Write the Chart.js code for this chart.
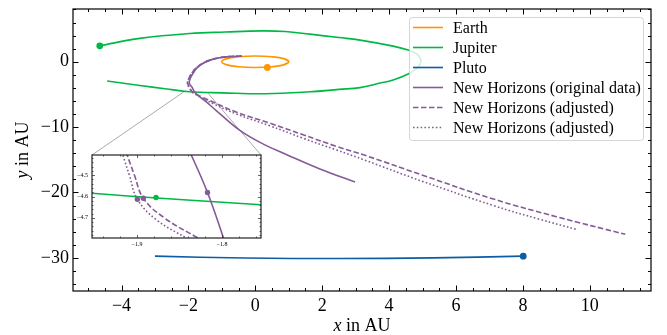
<!DOCTYPE html>
<html>
<head>
<meta charset="utf-8">
<script src="https://cdn.jsdelivr.net/npm/chart.js@4.4.1/dist/chart.umd.min.js"></script>
<style>
  html, body { margin: 0; padding: 0; background: #fff; }
  #wrap { position: relative; width: 667px; height: 335px; }
  #orbitChart { position: absolute; left: 0; top: 0; }
  #zoomChart { position: absolute; }
</style>
</head>
<body>
<div id="wrap">
  <canvas id="orbitChart" width="667" height="335"></canvas>
  <canvas id="zoomChart"></canvas>
</div>
<script>
// positions in AU, [x, y]
const earthPath = [[0.87,-0.44],[1.0,0.0],[0.87,0.44],[0.5,0.76],[0.0,0.88],[-0.5,0.76],[-0.87,0.44],[-1.0,0.0],[-0.87,-0.44],[-0.5,-0.76],[0.0,-0.88],[0.5,-0.76],[0.87,-0.44],[1.0,0.0],[0.87,0.44]];
const jupiterPath = [[-4.43,-2.94],[-3.45,-3.63],[-2.7,-4.12],[-1.96,-4.59],[-1.0,-4.76],[0.3,-4.9],[1.63,-4.6],[2.5,-4.23],[3.13,-3.96],[3.7,-3.3],[4.12,-2.79],[4.57,-1.88],[4.85,-0.92],[4.95,0.1],[4.85,1.1],[4.57,1.78],[4.12,2.39],[3.13,3.31],[2.5,3.7],[1.63,4.22],[0.9,4.62],[0.2,4.72],[-0.9,4.55],[-1.96,4.33],[-3.45,3.57],[-4.65,2.44]];
const plutoPath = [[-3.0,-29.74],[-0.3,-30.02],[2.5,-30.1],[5.3,-30.0],[8.01,-29.74]];
const nhOriginal = [[-0.41,0.87],[-0.75,0.8],[-1.06,0.62],[-1.35,0.25],[-1.56,-0.25],[-1.75,-1.0],[-1.86,-1.78],[-1.95,-2.6],[-1.97,-3.3],[-1.88,-4.0],[-1.82,-4.6],[-1.7,-5.2],[-1.5,-6.0],[-1.16,-7.5],[-0.46,-10.5],[0.24,-12.6],[0.94,-14.22],[1.93,-16.4],[2.98,-18.4]];
const nhAdjusted1 = [[-0.41,0.87],[-0.75,0.8],[-1.06,0.62],[-1.36,0.25],[-1.58,-0.25],[-1.78,-1.0],[-1.9,-1.78],[-1.99,-2.6],[-2.02,-3.3],[-1.96,-4.0],[-1.89,-4.6],[-1.83,-4.8],[-1.6,-5.4],[-1.2,-6.3],[-0.56,-7.72],[0.44,-9.4],[1.43,-11.17],[2.43,-12.95],[3.3,-14.35],[5.0,-17.35],[7.12,-21.0],[9.0,-23.7],[11.06,-26.4]];
const nhAdjusted2 = [[-0.41,0.87],[-0.75,0.8],[-1.06,0.62],[-1.36,0.25],[-1.58,-0.25],[-1.78,-1.0],[-1.9,-1.78],[-1.99,-2.6],[-2.03,-3.3],[-1.97,-4.0],[-1.9,-4.61],[-1.84,-4.8],[-1.62,-5.5],[-1.22,-6.5],[-0.56,-8.0],[0.44,-9.8],[1.43,-11.7],[2.43,-13.5],[3.3,-15.1],[5.0,-18.3],[7.12,-22.0],[8.5,-24.1],[9.61,-25.66]];
const earthNow = [[0.36,-0.88]];
const jupiterNow = [[-4.65,2.44]];
const plutoNow = [[8.01,-29.74]];

// zoom on the Jupiter flyby
const zoomJupiter = [[-1.96,-4.583],[-1.877,-4.607],[-1.75,-4.64]];
const zoomOriginal = [[-1.84,-4.37],[-1.817,-4.581],[-1.796,-4.82]];
const zoomAdjusted1 = [[-1.913,-4.39],[-1.903,-4.5],[-1.8926,-4.608],[-1.868,-4.70],[-1.826,-4.80],[-1.813,-4.83]];
const zoomAdjusted2 = [[-1.918,-4.39],[-1.909,-4.5],[-1.8996,-4.613],[-1.877,-4.71],[-1.84,-4.80],[-1.829,-4.83]];
const zoomJupiterNow = [[-1.8776,-4.605]];
const zoomNhNow = [[-1.8996,-4.613],[-1.8926,-4.608],[-1.817,-4.581]];
const zoomLinkEnds = [[-2.14,-4.62],[-1.41,-4.84]];

const labels = ["Earth", "Jupiter", "Pluto", "New Horizons (original data)", "New Horizons (adjusted)", "New Horizons (adjusted)"];

const ORANGE = "#FF9500", GREEN = "#00B945", BLUE = "#0C5DA5", PURPLE = "#845B97";
const SERIF = "'Liberation Serif', 'DejaVu Serif', serif";
const insetBox = { left: 92, top: 155, right: 261, bottom: 238 };

const pts = (arr) => arr.map(([x, y]) => ({ x, y }));
const fmt = (digits) => (v) => (v < 0 ? "\u2212" : "") + Math.abs(v).toFixed(digits);

const line = (label, data, color, dash, order) => ({
  label, data: pts(data), borderColor: color, backgroundColor: color,
  borderWidth: 1.6, borderDash: dash || [], pointRadius: 0, tension: 0.4, order
});
const dots = (data, color, r, order) => ({
  data: pts(data), showLine: false, pointRadius: r, pointBackgroundColor: color,
  pointBorderWidth: 0, backgroundColor: color, borderColor: color, order
});

// inward ticks on all four sides, plus frame
const frameTicks = {
  id: "frameTicks",
  afterDatasetsDraw(chart, args, o) {
    const { ctx, chartArea: a, scales: { x, y } } = chart;
    ctx.save();
    ctx.strokeStyle = o.color;
    ctx.lineWidth = o.tickWidth;
    const minors = (sc, step, major) => {
      const out = [];
      for (let k = Math.ceil(sc.min / step - 1e-9); k * step <= sc.max + 1e-9; k++) {
        const v = k * step;
        const r = v / major;
        if (Math.abs(r - Math.round(r)) > 1e-6) out.push(v);
      }
      return out;
    };
    const drawX = (vals, len) => vals.forEach((v) => {
      const p = Math.round(x.getPixelForValue(v)) + 0.5;
      ctx.beginPath();
      ctx.moveTo(p, a.bottom); ctx.lineTo(p, a.bottom - len);
      ctx.moveTo(p, a.top); ctx.lineTo(p, a.top + len);
      ctx.stroke();
    });
    const drawY = (vals, len) => vals.forEach((v) => {
      const p = Math.round(y.getPixelForValue(v)) + 0.5;
      ctx.beginPath();
      ctx.moveTo(a.left, p); ctx.lineTo(a.left + len, p);
      ctx.moveTo(a.right, p); ctx.lineTo(a.right - len, p);
      ctx.stroke();
    });
    drawX(x.ticks.map((t) => t.value), o.major);
    drawY(y.ticks.map((t) => t.value), o.major);
    drawX(minors(x, o.xMinor, o.xMajor), o.minor);
    drawY(minors(y, o.yMinor, o.yMajor), o.minor);
    ctx.lineWidth = o.frameWidth;
    ctx.strokeRect(a.left, a.top, a.right - a.left, a.bottom - a.top);
    ctx.restore();
  }
};

// axis titles with italic variable names
const drawMixed = (ctx, parts, size) => {
  const fonts = parts.map((p) => (p[1] ? "italic " : "") + size + "px " + SERIF);
  const widths = parts.map((p, i) => { ctx.font = fonts[i]; return ctx.measureText(p[0]).width; });
  let x = -widths.reduce((s, w) => s + w, 0) / 2;
  parts.forEach((p, i) => { ctx.font = fonts[i]; ctx.fillText(p[0], x, 0); x += widths[i]; });
};
const axisTitles = {
  id: "axisTitles",
  afterDraw(chart) {
    const { ctx, chartArea: a } = chart;
    ctx.save();
    ctx.fillStyle = "#000";
    ctx.textBaseline = "alphabetic";
    ctx.translate((a.left + a.right) / 2, 331);
    drawMixed(ctx, [["x", true], [" in AU", false]], 18);
    ctx.restore();
    ctx.save();
    ctx.fillStyle = "#000";
    ctx.textBaseline = "alphabetic";
    ctx.translate(28, (a.top + a.bottom) / 2);
    ctx.rotate(-Math.PI / 2);
    drawMixed(ctx, [["y", true], [" in AU", false]], 18);
    ctx.restore();
  }
};

// legend box inside the upper right corner
const boxLegend = {
  id: "boxLegend",
  afterDraw(chart) {
    const { ctx, chartArea: a } = chart;
    const items = chart.data.datasets.filter((d) => d.label);
    ctx.save();
    ctx.font = "16px " + SERIF;
    const w = 234, rowH = 20, h = items.length * rowH + 3;
    const left = a.right - 8 - w, top = a.top + 8;
    ctx.beginPath();
    ctx.roundRect(left + 0.5, top + 0.5, w, h, 3);
    ctx.fillStyle = "rgba(255,255,255,0.8)";
    ctx.fill();
    ctx.strokeStyle = "rgba(204,204,204,0.8)";
    ctx.lineWidth = 1;
    ctx.stroke();
    items.forEach((d, i) => {
      const cy = top + 10.5 + i * rowH;
      ctx.beginPath();
      ctx.setLineDash(d.borderDash);
      ctx.strokeStyle = d.borderColor;
      ctx.lineWidth = d.borderWidth;
      ctx.moveTo(left + 4, cy);
      ctx.lineTo(left + 34, cy);
      ctx.stroke();
      ctx.setLineDash([]);
      ctx.fillStyle = "#000";
      ctx.textBaseline = "middle";
      ctx.fillText(d.label, left + 44, cy + 1);
    });
    ctx.restore();
  }
};

// grey lines joining the flyby to the zoom box
const zoomLinks = {
  id: "zoomLinks",
  beforeDatasetsDraw(chart) {
    const { ctx, scales: { x, y } } = chart;
    const corners = [[insetBox.left, insetBox.top], [insetBox.right, insetBox.top]];
    ctx.save();
    ctx.strokeStyle = "#aaaaaa";
    ctx.lineWidth = 1;
    zoomLinkEnds.forEach(([vx, vy], i) => {
      ctx.beginPath();
      ctx.moveTo(corners[i][0], corners[i][1]);
      ctx.lineTo(x.getPixelForValue(vx), y.getPixelForValue(vy));
      ctx.stroke();
    });
    ctx.restore();
  }
};

const whiteArea = {
  id: "whiteArea",
  beforeDraw(chart) {
    const { ctx, chartArea: a } = chart;
    ctx.save();
    ctx.fillStyle = "#fff";
    ctx.fillRect(a.left, a.top, a.right - a.left, a.bottom - a.top);
    ctx.restore();
  }
};

// keep the plot box where the layout padding puts it
const fixX = (h) => (s) => { s.height = h; s.paddingLeft = 0; s.paddingRight = 0; };
const fixY = (w) => (s) => { s.width = w; s.paddingTop = 0; s.paddingBottom = 0; };

const tickFont = { family: SERIF, size: 18 };

new Chart(document.getElementById("orbitChart"), {
  type: "line",
  data: {
    datasets: [
      line(labels[0], earthPath, ORANGE, null, 10),
      line(labels[1], jupiterPath, GREEN, null, 9),
      line(labels[2], plutoPath, BLUE, null, 8),
      line(labels[3], nhOriginal, PURPLE, null, 7),
      line(labels[4], nhAdjusted1, PURPLE, [5.5, 2.5], 6),
      line(labels[5], nhAdjusted2, PURPLE, [1.6, 2.2], 5),
      dots(earthNow, ORANGE, 3.4, 2),
      dots(jupiterNow, GREEN, 3.4, 2),
      dots(plutoNow, BLUE, 3.4, 2)
    ]
  },
  options: {
    responsive: false,
    animation: false,
    devicePixelRatio: 1,
    layout: { padding: { top: 9, right: 16, left: 0, bottom: 0 } },
    plugins: {
      legend: { display: false },
      tooltip: { enabled: false },
      frameTicks: { color: "#000", tickWidth: 1, frameWidth: 1.2, major: 5.5, minor: 3, xMajor: 2, xMinor: 0.5, yMajor: 10, yMinor: 2 }
    },
    scales: {
      x: {
        type: "linear", min: -5.45, max: 11.83,
        grid: { display: false, drawTicks: false }, border: { display: false },
        ticks: { stepSize: 2, includeBounds: false, padding: 4, color: "#000", font: tickFont, maxRotation: 0, autoSkip: false, callback: fmt(0) },
        afterFit: fixX(44)
      },
      y: {
        type: "linear", min: -35.07, max: 8.07,
        grid: { display: false, drawTicks: false }, border: { display: false },
        ticks: { stepSize: 10, includeBounds: false, padding: 4, color: "#000", font: tickFont, autoSkip: false, callback: fmt(0) },
        afterFit: fixY(73)
      }
    }
  },
  plugins: [zoomLinks, frameTicks, axisTitles, boxLegend]
});

// inset
const padL = 22, padR = 9, padT = 10, padB = 12;
const zc = document.getElementById("zoomChart");
zc.width = insetBox.right - insetBox.left + padL + padR;
zc.height = insetBox.bottom - insetBox.top + padT + padB;
zc.style.left = (insetBox.left - padL) + "px";
zc.style.top = (insetBox.top - padT) + "px";

const smallFont = { family: SERIF, size: 6 };
new Chart(zc, {
  type: "line",
  data: {
    datasets: [
      line("", zoomJupiter, GREEN, null, 9),
      line("", zoomOriginal, PURPLE, null, 7),
      line("", zoomAdjusted1, PURPLE, [5.5, 2.5], 6),
      line("", zoomAdjusted2, PURPLE, [1.6, 2.2], 5),
      dots(zoomJupiterNow, GREEN, 2.7, 2),
      dots(zoomNhNow, PURPLE, 2.7, 2)
    ]
  },
  options: {
    responsive: false,
    animation: false,
    devicePixelRatio: 1,
    layout: { padding: { top: padT, right: padR, left: 0, bottom: 0 } },
    plugins: {
      legend: { display: false },
      tooltip: { enabled: false },
      frameTicks: { color: "#222", tickWidth: 0.7, frameWidth: 1.2, major: 3, minor: 1.5, xMajor: 0.1, xMinor: 0.02, yMajor: 0.1, yMinor: 0.02 }
    },
    scales: {
      x: {
        type: "linear", min: -1.953, max: -1.754,
        grid: { display: false, drawTicks: false }, border: { display: false },
        ticks: { stepSize: 0.1, includeBounds: false, padding: 3, color: "#000", font: smallFont, maxRotation: 0, autoSkip: false, callback: fmt(1) },
        afterFit: fixX(padB)
      },
      y: {
        type: "linear", min: -4.795, max: -4.405,
        grid: { display: false, drawTicks: false }, border: { display: false },
        ticks: { stepSize: 0.1, includeBounds: false, padding: 4, color: "#000", font: smallFont, autoSkip: false, callback: fmt(1) },
        afterFit: fixY(padL)
      }
    }
  },
  plugins: [whiteArea, frameTicks]
});
</script>
</body>
</html>
